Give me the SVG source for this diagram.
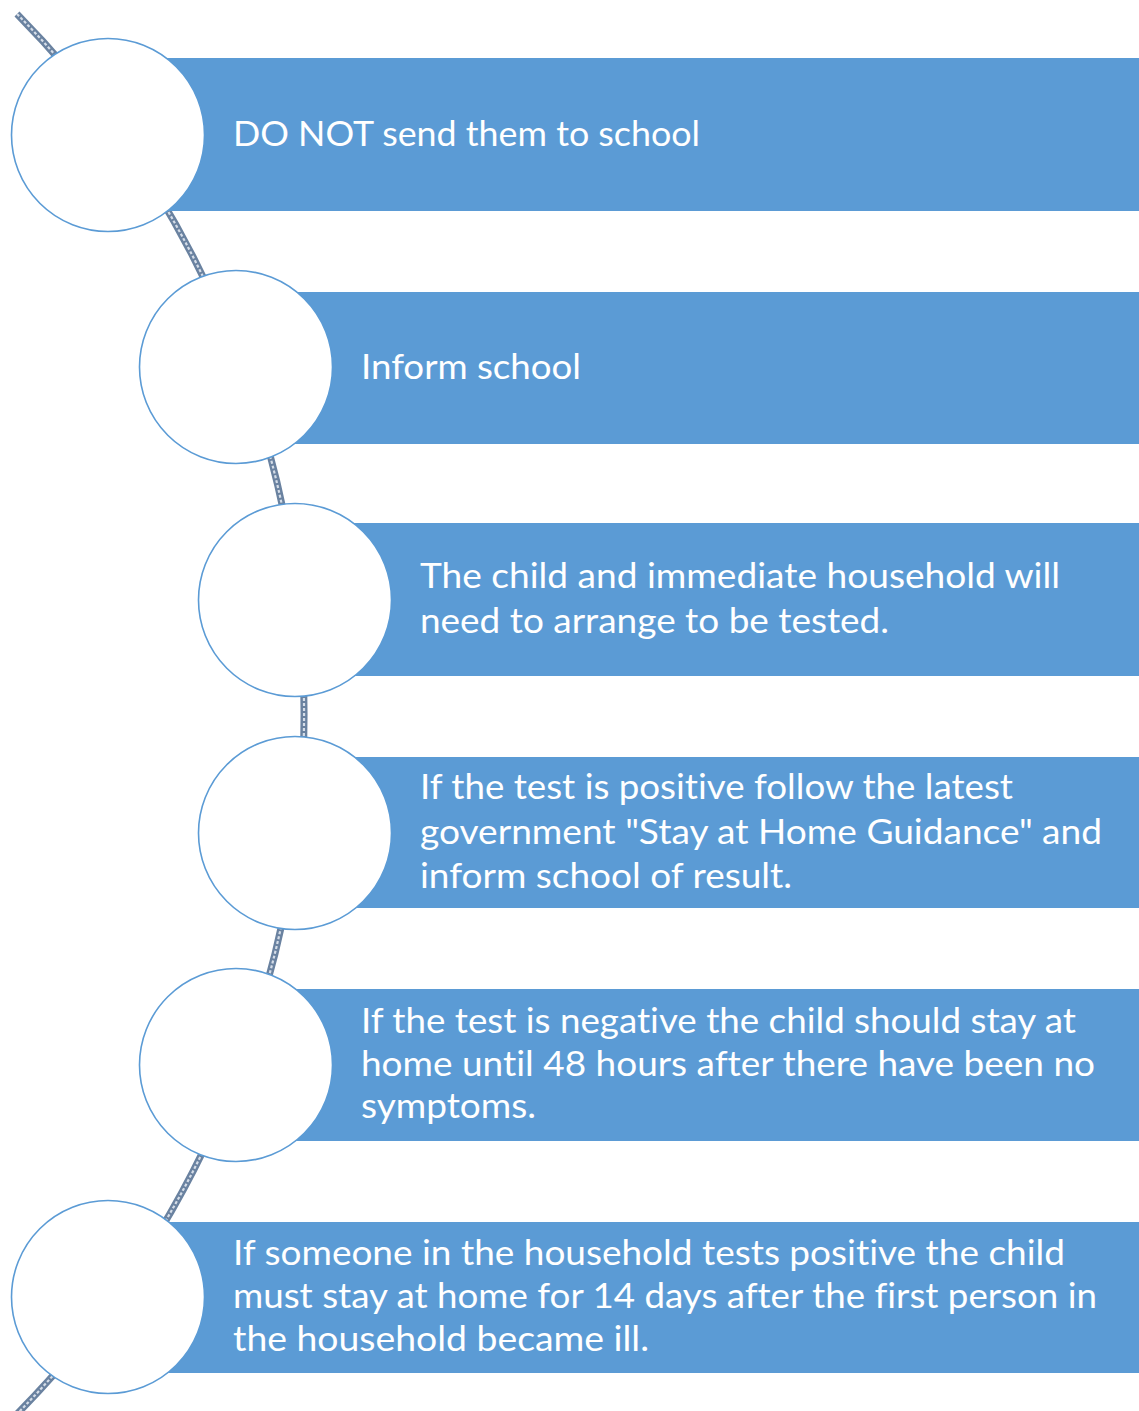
<svg xmlns="http://www.w3.org/2000/svg" width="1139" height="1411" viewBox="0 0 1139 1411">
<style>
.bar{fill:#5b9bd5;}
.dot{fill:#ffffff;stroke:#5b9bd5;stroke-width:1.6;}
.t{font-family:Lato,"Open Sans","Liberation Sans",sans-serif;font-size:35px;fill:#ffffff;font-variant-ligatures:none;}
.c1{fill:none;stroke:#6a82a0;stroke-width:7;}
.c2{fill:none;stroke:#d5dde8;stroke-width:2.2;stroke-dasharray:3 2;}
</style>
<rect width="1139" height="1411" fill="#ffffff"/>
<g id="connectors">
<path class="c1" d="M 17 14 A 997 997 0 0 1 17 1414"/>
<path class="c2" d="M 17 14 A 997 997 0 0 1 17 1414"/>
</g>
<g id="node1">
<rect class="bar" x="108" y="58" width="1031" height="153"/>
<circle class="dot" cx="108" cy="135" r="96.5"/>
<text class="t" x="233" y="146" textLength="467" lengthAdjust="spacingAndGlyphs">DO NOT send them to school</text>
</g>
<g id="node2">
<rect class="bar" x="236" y="292" width="903" height="152"/>
<circle class="dot" cx="236" cy="367" r="96.5"/>
<text class="t" x="361" y="379" textLength="220" lengthAdjust="spacingAndGlyphs">Inform school</text>
</g>
<g id="node3">
<rect class="bar" x="295" y="523" width="844" height="153"/>
<circle class="dot" cx="295" cy="600" r="96.5"/>
<text class="t" x="420" y="588" textLength="640" lengthAdjust="spacingAndGlyphs">The child and immediate household will</text>
<text class="t" x="420" y="633" textLength="469" lengthAdjust="spacingAndGlyphs">need to arrange to be tested.</text>
</g>
<g id="node4">
<rect class="bar" x="295" y="757" width="844" height="151"/>
<circle class="dot" cx="295" cy="833" r="96.5"/>
<text class="t" x="420" y="799" textLength="593" lengthAdjust="spacingAndGlyphs">If the test is positive follow the latest</text>
<text class="t" x="420" y="844" textLength="682" lengthAdjust="spacingAndGlyphs">government "Stay at Home Guidance" and</text>
<text class="t" x="420" y="888" textLength="372" lengthAdjust="spacingAndGlyphs">inform school of result.</text>
</g>
<g id="node5">
<rect class="bar" x="236" y="989" width="903" height="152"/>
<circle class="dot" cx="236" cy="1065" r="96.5"/>
<text class="t" x="361" y="1033" textLength="715" lengthAdjust="spacingAndGlyphs">If the test is negative the child should stay at</text>
<text class="t" x="361" y="1076" textLength="734" lengthAdjust="spacingAndGlyphs">home until 48 hours after there have been no</text>
<text class="t" x="361" y="1118" textLength="175" lengthAdjust="spacingAndGlyphs">symptoms.</text>
</g>
<g id="node6">
<rect class="bar" x="108" y="1222" width="1031" height="151"/>
<circle class="dot" cx="108" cy="1297" r="96.5"/>
<text class="t" x="233" y="1265" textLength="832" lengthAdjust="spacingAndGlyphs">If someone in the household tests positive the child</text>
<text class="t" x="233" y="1308" textLength="864" lengthAdjust="spacingAndGlyphs">must stay at home for 14 days after the first person in</text>
<text class="t" x="233" y="1351" textLength="416" lengthAdjust="spacingAndGlyphs">the household became ill.</text>
</g>
</svg>
